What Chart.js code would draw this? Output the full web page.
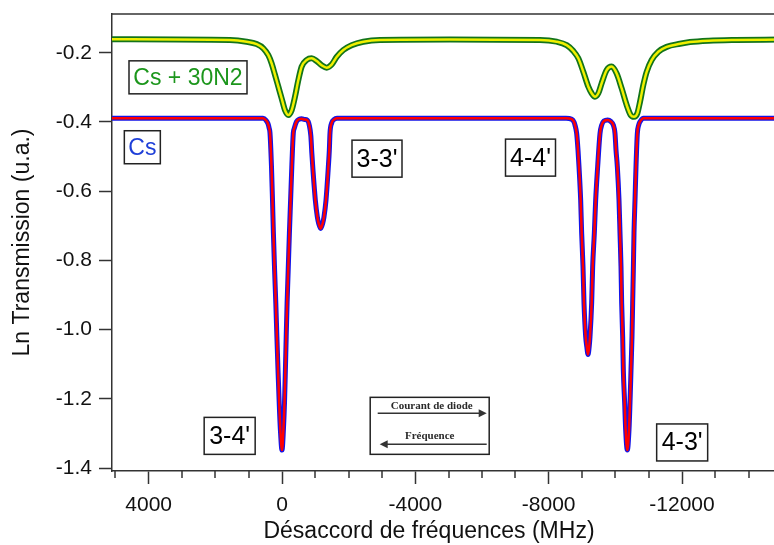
<!DOCTYPE html>
<html>
<head>
<meta charset="utf-8">
<script src="https://cdn.jsdelivr.net/npm/chart.js@4.4.1/dist/chart.umd.min.js"></script>
<style>
  html, body { margin: 0; padding: 0; background: #fff; overflow: hidden; }
  #wrap { position: relative; width: 780px; height: 545px; }
</style>
</head>
<body>
<div id="wrap"><canvas id="chart"></canvas></div>
<script>
'use strict';

// Cs cell alone: detuning (MHz) and ln of transmission
const freqCs = [5100, 2000, 570, 480, 420, 385, 360, 315, 285, 258, 222, 186, 153, 120, 84, 48, 0,
  -42, -75, -102, -126, -153, -186, -222, -258, -294, -339, -370, -435, -510, -590, -675, -760, -820, -865,
  -895, -930, -1000, -1060, -1105, -1160, -1215, -1260, -1320, -1390, -1420, -1440, -1490, -1560, -1650,
  -5000, -8520, -8690, -8760, -8790, -8840, -8880, -8910, -8960, -8990, -9030, -9060, -9110, -9145, -9180,
  -9215, -9240, -9290, -9320, -9370, -9410, -9470, -9540, -9590, -9660, -9770, -9870, -9940, -9990, -10020,
  -10060, -10110, -10140, -10170, -10190, -10220, -10240, -10280, -10310, -10360, -10410, -10440, -10470,
  -10500, -10520, -10540, -10560, -10590, -10620, -10660, -10700, -10755, -10840, -14940];
const lnCs = [-0.389, -0.389, -0.389, -0.395, -0.405, -0.418, -0.432, -0.530, -0.626, -0.721, -0.828, -0.923,
  -1.021, -1.116, -1.212, -1.290, -1.348,
  -1.290, -1.212, -1.116, -1.021, -0.923, -0.828, -0.721, -0.626, -0.530, -0.432, -0.418, -0.399, -0.392,
  -0.391, -0.393, -0.395, -0.410, -0.440,
  -0.490, -0.540, -0.626, -0.674, -0.695, -0.708, -0.695, -0.674, -0.626, -0.530, -0.481, -0.432, -0.403,
  -0.393, -0.389,
  -0.389, -0.389, -0.392, -0.400, -0.409, -0.433, -0.481, -0.529, -0.626, -0.721, -0.818, -0.923, -1.020,
  -1.050, -1.072,
  -1.050, -1.020, -0.923, -0.818, -0.721, -0.626, -0.529, -0.433, -0.409, -0.397, -0.394, -0.399, -0.409,
  -0.433, -0.481,
  -0.529, -0.626, -0.721, -0.818, -0.923, -1.020, -1.117, -1.212, -1.290, -1.348, -1.290, -1.212, -1.117,
  -1.020, -0.923, -0.828, -0.721, -0.626, -0.529, -0.433, -0.409, -0.397, -0.389, -0.389];

// Cs + 30 torr N2
const freqN2 = [5100, 1560, 1060, 760, 560, 410, 310, 210, 110, 10, -90, -190, -290, -390, -490, -590,
  -740, -890, -1040, -1190, -1340, -1490, -1640, -1840, -2090, -2440, -2940, -5040, -7740, -8240, -8540,
  -8740, -8890, -9040, -9190, -9290, -9390, -9490, -9590, -9740, -9890, -10040, -10190, -10340, -10460,
  -10560, -10660, -10740, -10840, -10940, -11090, -11290, -11540, -11940, -12240, -12800, -13600, -14940];
const lnN2 = [-0.161, -0.163, -0.168, -0.175, -0.187, -0.207, -0.231, -0.264, -0.298, -0.332, -0.366,
  -0.380, -0.366, -0.327, -0.279, -0.240, -0.221, -0.216, -0.224, -0.236, -0.243, -0.234, -0.212, -0.192,
  -0.178, -0.168, -0.163, -0.162, -0.163, -0.168, -0.178, -0.195, -0.216, -0.255, -0.298, -0.317, -0.327,
  -0.317, -0.288, -0.250, -0.240, -0.260, -0.303, -0.351, -0.380, -0.385, -0.375, -0.342, -0.293, -0.255,
  -0.221, -0.197, -0.183, -0.174, -0.169, -0.165, -0.163, -0.162];

const xTicks = [4000, 0, -4000, -8000, -12000];
const yTicks = [-1.4, -1.2, -1.0, -0.8, -0.6, -0.4, -0.2];

const family = '"Liberation Sans", Arial, sans-serif';

const pts = (xs, ys) => xs.map((x, i) => ({x: x, y: ys[i]}));

// text boxes placed in data units
const notes = [
  {text: 'Cs + 30N2', x: 2820, y: -0.271, w: 118, h: 33, color: '#1c961c', size: 23},
  {text: 'Cs', x: 4190, y: -0.473, w: 36, h: 33, color: '#1e3fd8', size: 23},
  {text: "3-3'", x: -2850, y: -0.506, w: 50, h: 37, color: '#000', size: 25},
  {text: "4-4'", x: -7455, y: -0.503, w: 50, h: 37, color: '#000', size: 25},
  {text: "3-4'", x: 1570, y: -1.307, w: 51, h: 37, color: '#000', size: 25},
  {text: "4-3'", x: -12005, y: -1.326, w: 51, h: 37, color: '#000', size: 25}
];

function arrow(ctx, x1, x2, y) {
  const dir = Math.sign(x2 - x1);
  ctx.beginPath();
  ctx.moveTo(x1, y);
  ctx.lineTo(x2 - dir * 4, y);
  ctx.stroke();
  ctx.beginPath();
  ctx.moveTo(x2, y);
  ctx.lineTo(x2 - dir * 8, y - 4);
  ctx.lineTo(x2 - dir * 8, y + 4);
  ctx.closePath();
  ctx.fill();
}

const decorations = {
  id: 'decorations',
  afterDraw(chart) {
    const {ctx, chartArea: a, scales: {x, y}} = chart;
    ctx.save();
    ctx.strokeStyle = '#333';
    ctx.lineWidth = 1.5;
    ctx.beginPath();
    ctx.moveTo(a.left, a.top);
    ctx.lineTo(a.right, a.top);
    ctx.stroke();

    // minor ticks every 1000 MHz
    ctx.beginPath();
    for (let v = -14000; v <= 5000; v += 1000) {
      if (v % 4000 === 0) continue;
      const px = Math.round(x.getPixelForValue(v));
      ctx.moveTo(px, a.bottom);
      ctx.lineTo(px, a.bottom + 7);
    }
    ctx.stroke();

    // x axis title
    ctx.fillStyle = '#111';
    ctx.font = '23px ' + family;
    ctx.textAlign = 'center';
    ctx.textBaseline = 'middle';
    ctx.fillText('Désaccord de fréquences (MHz)', x.getPixelForValue(-4410), a.bottom + 61);

    notes.forEach(n => {
      const cx = x.getPixelForValue(n.x);
      const cy = y.getPixelForValue(n.y);
      ctx.fillStyle = '#fff';
      ctx.fillRect(cx - n.w / 2, cy - n.h / 2, n.w, n.h);
      ctx.strokeStyle = '#222';
      ctx.lineWidth = 1.5;
      ctx.strokeRect(cx - n.w / 2, cy - n.h / 2, n.w, n.h);
      ctx.fillStyle = n.color;
      ctx.font = n.size + 'px ' + family;
      ctx.fillText(n.text, cx, cy + 1);
    });

    // scan direction box
    const bx = x.getPixelForValue(-4431);
    const by = y.getPixelForValue(-1.278);
    ctx.fillStyle = '#fff';
    ctx.fillRect(bx - 59.5, by - 28.5, 119, 57);
    ctx.strokeStyle = '#222';
    ctx.strokeRect(bx - 59.5, by - 28.5, 119, 57);
    ctx.fillStyle = '#2a2a2a';
    ctx.font = 'bold 11px "Liberation Serif", "Times New Roman", serif';
    ctx.fillText('Courant de diode', bx + 2, by - 20);
    ctx.fillText('Fréquence', bx, by + 10);
    ctx.strokeStyle = '#333';
    ctx.fillStyle = '#333';
    ctx.lineWidth = 1.5;
    arrow(ctx, bx - 52, bx + 57, by - 12.5);
    arrow(ctx, bx + 57, bx - 50, by + 18.5);
    ctx.restore();
  }
};

new Chart(document.getElementById('chart').getContext('2d'), {
  type: 'line',
  data: {
    datasets: [
      {label: 'Cs fit', data: pts(freqCs, lnCs), borderColor: '#ff0000', borderWidth: 2.5},
      {label: 'Cs', data: pts(freqCs, lnCs), borderColor: '#1414e6', borderWidth: 5},
      {label: 'Cs + 30N2 fit', data: pts(freqN2, lnN2), borderColor: '#f0f000', borderWidth: 2.5},
      {label: 'Cs + 30N2', data: pts(freqN2, lnN2), borderColor: '#13741a', borderWidth: 6}
    ]
  },
  options: {
    responsive: true,
    maintainAspectRatio: false,
    animation: false,
    layout: {padding: {top: 14, left: 0, right: 0, bottom: 0}},
    elements: {
      point: {radius: 0},
      line: {cubicInterpolationMode: 'monotone', fill: false}
    },
    plugins: {legend: {display: false}, tooltip: {enabled: false}},
    scales: {
      x: {
        type: 'linear',
        reverse: true,
        min: -14940,
        max: 5100,
        afterFit: s => { s.height = 74; },
        afterBuildTicks: s => { s.ticks = xTicks.map(v => ({value: v})); },
        border: {color: '#333', width: 1.5},
        grid: {drawOnChartArea: false, tickLength: 13, tickColor: '#333', tickWidth: 1.5},
        ticks: {
          color: '#111', font: {family: family, size: 21}, padding: 9,
          maxRotation: 0, autoSkip: false, callback: v => String(v)
        }
      },
      y: {
        min: -1.4085,
        max: -0.088,
        afterFit: s => { s.width = 112; s.paddingTop = 0; s.paddingBottom = 0; },
        afterBuildTicks: s => { s.ticks = yTicks.map(v => ({value: v})); },
        border: {color: '#333', width: 1.5},
        grid: {drawOnChartArea: false, tickLength: 13, tickColor: '#333', tickWidth: 1.5},
        ticks: {
          color: '#111', font: {family: family, size: 21}, padding: 7,
          autoSkip: false, callback: v => v.toFixed(1)
        },
        title: {
          display: true, text: 'Ln Transmission (u.a.)', color: '#111',
          font: {family: family, size: 23}, padding: {top: 9, bottom: 0}
        }
      }
    }
  },
  plugins: [decorations]
});
</script>
</body>
</html>
